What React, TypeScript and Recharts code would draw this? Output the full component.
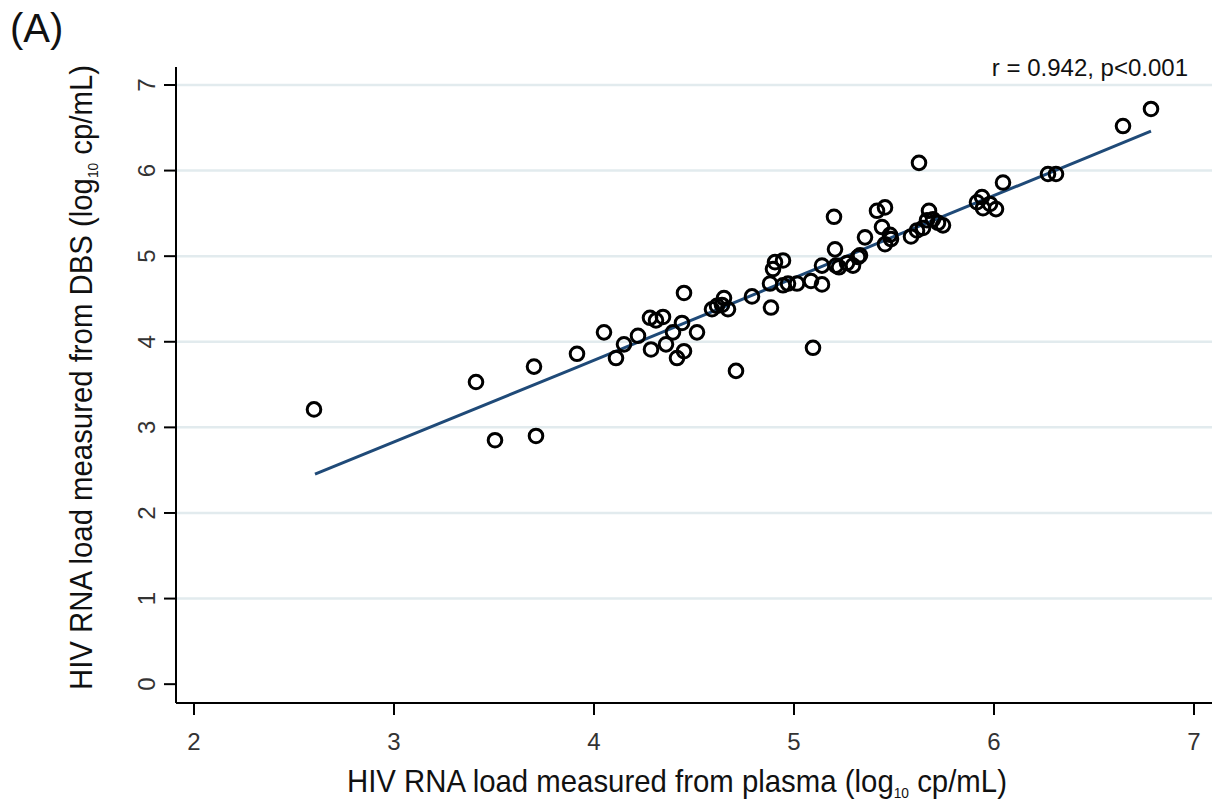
import React from 'react';
import { ScatterChart, Scatter, XAxis, YAxis, CartesianGrid } from 'recharts';

// HIV RNA load measured from plasma (log10 cp/mL)
const plasmaValues = [
  2.6, 3.41, 3.505, 3.7, 3.71, 3.915, 4.05, 4.11, 4.15, 4.22,
  4.28, 4.285, 4.31, 4.345, 4.36, 4.395, 4.415, 4.44, 4.45, 4.45,
  4.515, 4.59, 4.615, 4.64, 4.65, 4.67, 4.71, 4.79, 4.88, 4.885,
  4.895, 4.905, 4.945, 4.945, 4.97, 5.015, 5.085, 5.095, 5.14, 5.14,
  5.2, 5.205, 5.21, 5.225, 5.265, 5.295, 5.32, 5.33, 5.355, 5.415,
  5.44, 5.455, 5.455, 5.485, 5.48, 5.585, 5.615, 5.625, 5.645, 5.665,
  5.675, 5.695, 5.72, 5.745, 5.915, 5.94, 5.945, 5.98, 6.01, 6.045,
  6.27, 6.31, 6.645, 6.785,
];
// HIV RNA load measured from DBS (log10 cp/mL)
const dbsValues = [
  3.21, 3.53, 2.85, 3.71, 2.9, 3.86, 4.11, 3.81, 3.97, 4.07,
  4.28, 3.91, 4.25, 4.29, 3.97, 4.11, 3.81, 4.22, 4.57, 3.89,
  4.11, 4.38, 4.42, 4.43, 4.51, 4.38, 3.66, 4.53, 4.68, 4.4,
  4.85, 4.93, 4.95, 4.66, 4.68, 4.68, 4.71, 3.93, 4.67, 4.89,
  5.46, 5.08, 4.89, 4.87, 4.92, 4.89, 4.99, 5.01, 5.22, 5.53,
  5.34, 5.57, 5.14, 5.2, 5.25, 5.23, 5.3, 6.09, 5.33, 5.42,
  5.53, 5.43, 5.39, 5.36, 5.63, 5.69, 5.56, 5.61, 5.55, 5.86,
  5.96, 5.96, 6.52, 6.72,
];

// fitted line
const fitX = [2.605, 3.88, 5.095, 5.48, 6.43, 6.785];
const fitY = [2.453, 3.668, 4.836, 5.21, 6.12, 6.46];

const xTicks = [2, 3, 4, 5, 6, 7];
const yTicks = [0, 1, 2, 3, 4, 5, 6, 7];
const gridValues = [1, 2, 3, 4, 5, 6, 7];

const annotation = 'r = 0.942, p<0.001';
const panelLabel = '(A)';

const points = plasmaValues.map((x, i) => ({ x, y: dbsValues[i] }));
const fitData = fitX.map((x, i) => ({ x, y: fitY[i] }));

const FONT = '"Liberation Sans", Arial, Helvetica, sans-serif';

const XTick = (props: any) => {
  const { x, y, payload } = props;
  return (
    <text x={x} y={y + 33} textAnchor="middle" fontSize={24} fontFamily={FONT} fill="#333">
      {payload.value}
    </text>
  );
};

const YTick = (props: any) => {
  const { x, y, payload } = props;
  const bx = x - 7;
  return (
    <text
      x={bx}
      y={y}
      textAnchor="middle"
      fontSize={24}
      fontFamily={FONT}
      fill="#333"
      transform={`rotate(-90, ${bx}, ${y})`}
    >
      {payload.value}
    </text>
  );
};

const Ring = (props: any) => {
  const { cx, cy } = props;
  if (cx == null || cy == null) return <g />;
  return <circle cx={cx} cy={cy} r={6.8} fill="none" stroke="#000" strokeWidth={3} />;
};

const NoShape = () => <g />;

export default function App() {
  return (
    <div style={{ position: 'absolute', left: 0, top: 0, width: 1231, height: 803, background: '#fff' }}>
      <ScatterChart
        width={1231}
        height={803}
        margin={{ top: 67, right: 19, bottom: 0, left: 0 }}
      >
        <CartesianGrid
          vertical={false}
          horizontalValues={gridValues}
          stroke="#e2ebee"
          strokeWidth={2.5}
        />
        <XAxis
          type="number"
          dataKey="x"
          domain={[1.91, 7.09]}
          ticks={xTicks}
          allowDataOverflow
          interval={0}
          axisLine={{ stroke: '#000', strokeWidth: 2 }}
          tickLine={{ stroke: '#000', strokeWidth: 2 }}
          tickSize={12}
          tick={<XTick />}
          height={100}
        />
        <YAxis
          type="number"
          dataKey="y"
          domain={[-0.22, 7.21]}
          ticks={yTicks}
          allowDataOverflow
          interval={0}
          axisLine={{ stroke: '#000', strokeWidth: 2 }}
          tickLine={{ stroke: '#000', strokeWidth: 2 }}
          tickSize={12}
          tick={<YTick />}
          width={176}
        />
        <Scatter
          data={fitData}
          line={{ stroke: '#1f4a78', strokeWidth: 3 }}
          lineType="joint"
          shape={NoShape}
          isAnimationActive={false}
        />
        <Scatter data={points} shape={Ring} isAnimationActive={false} />
      </ScatterChart>
      <svg
        width={1231}
        height={803}
        style={{ position: 'absolute', left: 0, top: 0, pointerEvents: 'none' }}
      >
        <text x={10} y={42} fontSize={40} fontFamily={FONT} fill="#111">
          {panelLabel}
        </text>
        <text x={1188} y={76} textAnchor="end" fontSize={24} fontFamily={FONT} fill="#111">
          {annotation}
        </text>
        <text
          x={0}
          y={0}
          fontSize={32}
          fontFamily={FONT}
          fill="#111"
          transform="translate(347, 792) scale(0.918, 1)"
        >
          HIV RNA load measured from plasma (log
          <tspan fontSize={15} dy={6}>10</tspan>
          <tspan dy={-6}> cp/mL)</tspan>
        </text>
        <text
          x={0}
          y={0}
          fontSize={32}
          fontFamily={FONT}
          fill="#111"
          transform="translate(92, 690) rotate(-90) scale(0.917, 1)"
        >
          HIV RNA load measured from DBS (log
          <tspan fontSize={15} dy={6}>10</tspan>
          <tspan dy={-6}> cp/mL)</tspan>
        </text>
      </svg>
    </div>
  );
}
